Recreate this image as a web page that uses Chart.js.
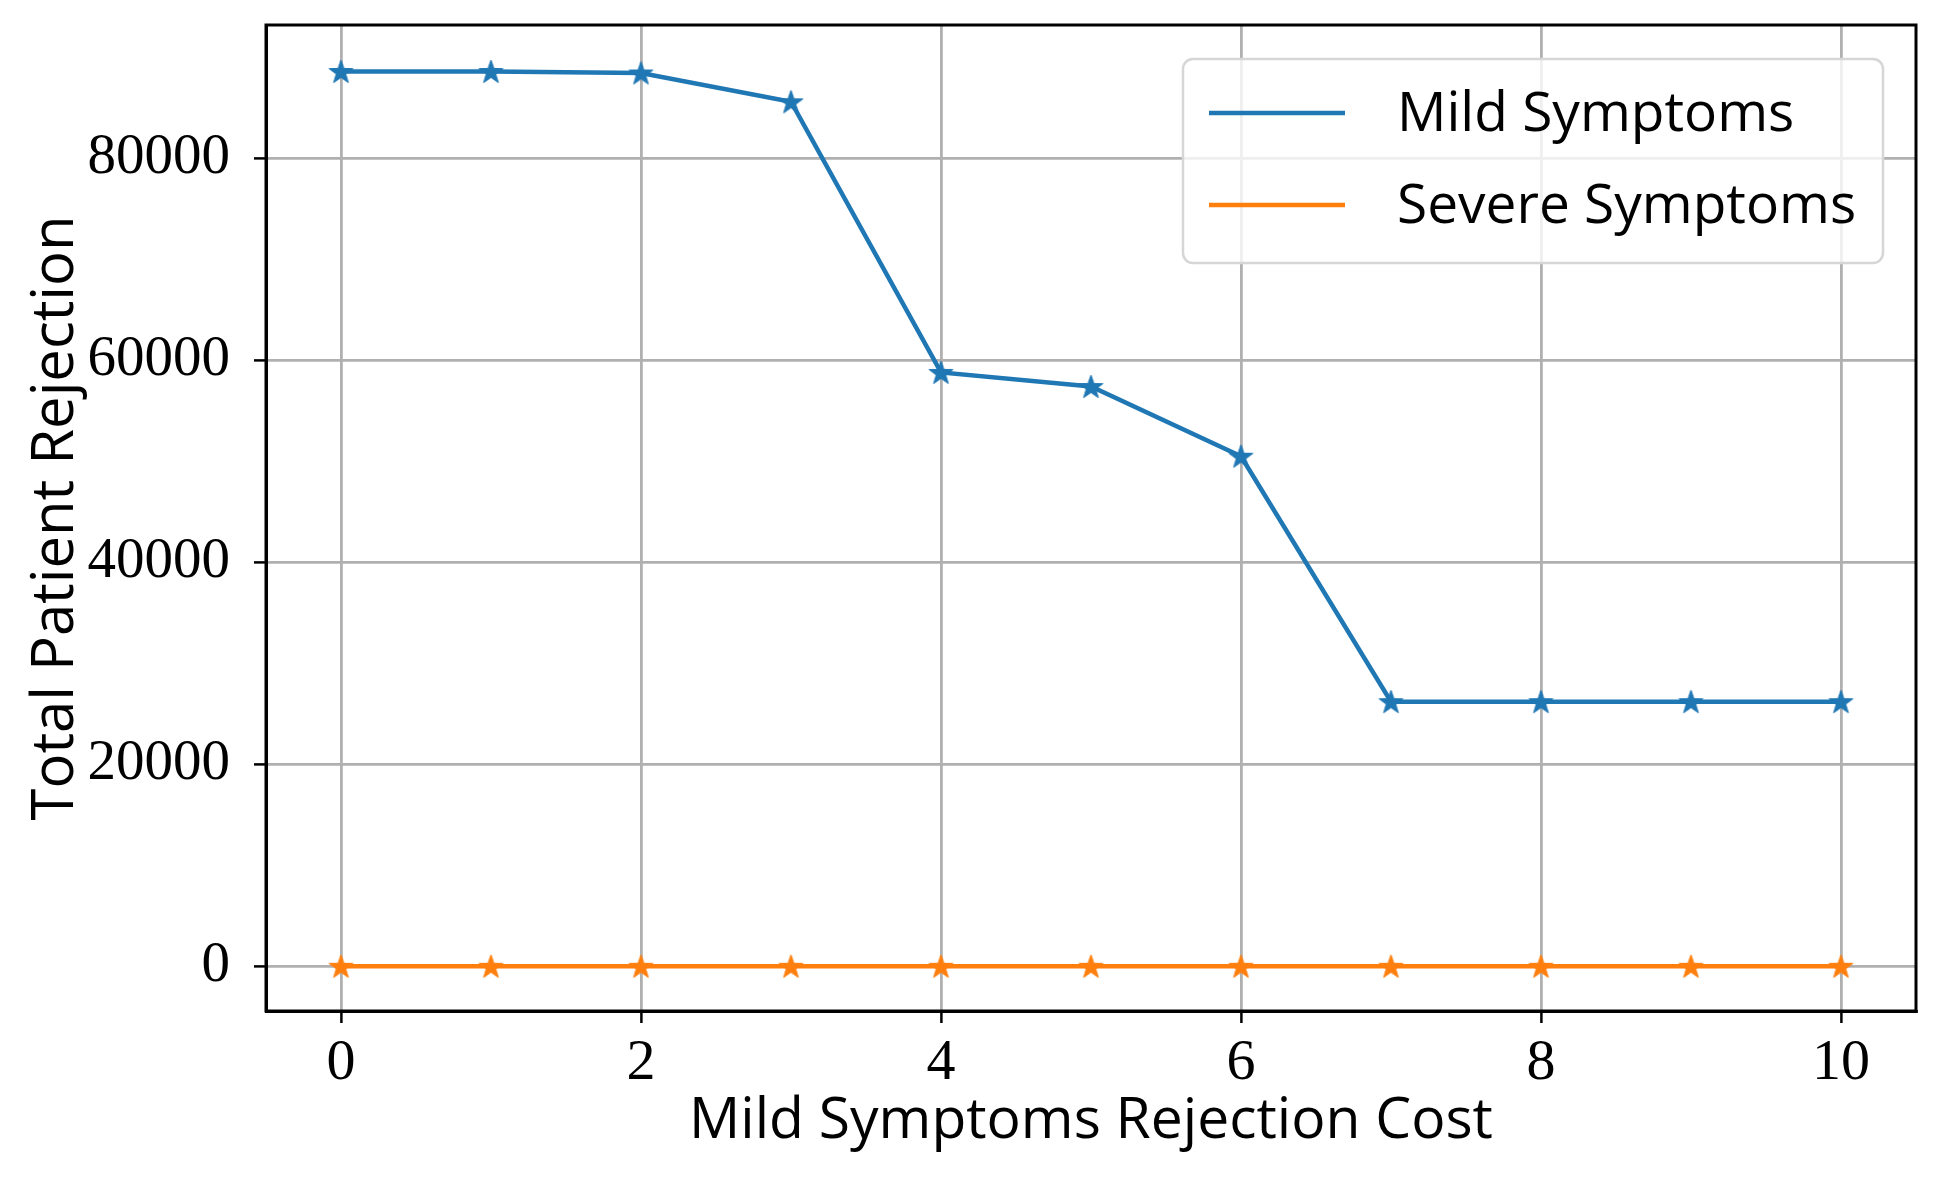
<!DOCTYPE html>
<html><head><meta charset="utf-8">
<script src="https://cdn.jsdelivr.net/npm/chart.js@4.4.1/dist/chart.umd.min.js"></script>
<style>html,body{margin:0;padding:0;background:#fff;} canvas{display:block;}</style>
</head><body>
<canvas id="c" width="1938" height="1192"></canvas>
<script>
const xValues = [0,1,2,3,4,5,6,7,8,9,10];
const mildSymptoms = [88600,88600,88450,85600,58800,57400,50500,26200,26200,26200,26200];
const severeSymptoms = [0,0,0,0,0,0,0,0,0,0,0];
const xTicks = [0,2,4,6,8,10];
const yTicks = [0,20000,40000,60000,80000];
const seriesLabels = ['Mild Symptoms','Severe Symptoms'];
const xTitle = 'Mild Symptoms Rejection Cost';
const yTitle = 'Total Patient Rejection';

const BLUE = '#1f77b4', ORANGE = '#ff7f0e';
const SANS = '"Open Sans", "DejaVu Sans", sans-serif';
const SERIF = '"Liberation Serif", "DejaVu Serif", serif';

function makeStar(color, size) {
  const c = document.createElement('canvas');
  c.width = size; c.height = size;
  const g = c.getContext('2d');
  const cx = size/2, cy = size/2 + 1, R = size/2 - 1, r = R*0.4;
  g.beginPath();
  for (let i = 0; i < 10; i++) {
    const a = -Math.PI/2 + i*Math.PI/5;
    const rad = i%2===0 ? R : r;
    g.lineTo(cx + rad*Math.cos(a), cy + rad*Math.sin(a));
  }
  g.closePath();
  g.fillStyle = color; g.fill();
  g.lineWidth = 1; g.strokeStyle = color; g.stroke();
  return c;
}

const framePlugin = {
  id: 'frame',
  afterDraw(chart) {
    const {ctx, chartArea: a} = chart;
    ctx.save();
    ctx.strokeStyle = '#000'; ctx.lineWidth = 3;
    ctx.strokeRect(a.left, a.top, a.right - a.left, a.bottom - a.top);
    ctx.restore();
  }
};

const legendPlugin = {
  id: 'boxLegend',
  afterDraw(chart) {
    const ctx = chart.ctx;
    const x0 = 1183, y0 = 59, w = 700, h = 204, rad = 10;
    ctx.save();
    ctx.beginPath();
    ctx.roundRect(x0, y0, w, h, rad);
    ctx.fillStyle = 'rgba(255,255,255,0.8)';
    ctx.fill();
    ctx.lineWidth = 2.5; ctx.strokeStyle = '#d6d6d6';
    ctx.stroke();
    const rows = [113, 205];
    chart.data.datasets.forEach((ds, i) => {
      ctx.beginPath();
      ctx.moveTo(1209, rows[i]); ctx.lineTo(1345, rows[i]);
      ctx.strokeStyle = ds.borderColor; ctx.lineWidth = 4.5;
      ctx.stroke();
      ctx.fillStyle = '#000';
      ctx.font = '55px ' + SANS;
      ctx.textBaseline = 'middle';
      ctx.textAlign = 'left';
      ctx.fillText(ds.label, 1397, rows[i] + 2);
    });
    ctx.restore();
  }
};

const starBlue = makeStar(BLUE, 27);
const starOrange = makeStar(ORANGE, 27);

function noPad(s) { s.paddingTop = 0; s.paddingBottom = 0; s.paddingLeft = 0; s.paddingRight = 0; }

new Chart(document.getElementById('c'), {
  type: 'line',
  data: {
    datasets: [
      { label: seriesLabels[0], data: xValues.map((x,i)=>({x, y: mildSymptoms[i]})),
        borderColor: BLUE, backgroundColor: BLUE, borderWidth: 4.5, pointStyle: starBlue, tension: 0, order: 2 },
      { label: seriesLabels[1], data: xValues.map((x,i)=>({x, y: severeSymptoms[i]})),
        borderColor: ORANGE, backgroundColor: ORANGE, borderWidth: 4.5, pointStyle: starOrange, tension: 0, order: 1 }
    ]
  },
  options: {
    responsive: false, devicePixelRatio: 1, animation: false,
    layout: { padding: { top: 25, right: 22, left: 0, bottom: 0 } },
    plugins: { legend: { display: false }, tooltip: { enabled: false } },
    scales: {
      x: {
        type: 'linear', min: -0.5, max: 10.5,
        afterBuildTicks: s => { s.ticks = xTicks.map(v => ({ value: v })); },
        afterFit: s => { s.height = 181; noPad(s); },
        ticks: { font: { family: SERIF, size: 58 }, color: '#000', padding: 6, maxRotation: 0, autoSkip: false, callback: v => String(v) },
        grid: { color: '#b0b0b0', lineWidth: 2.8, tickLength: 12, tickColor: '#000', tickWidth: 2.5 },
        border: { color: '#000', width: 3 },
        title: { display: true, text: xTitle, color: '#000', font: { family: SANS, size: 57 }, padding: { top: 0, bottom: 36 } }
      },
      y: {
        type: 'linear', min: -4430, max: 93200,
        afterBuildTicks: s => { s.ticks = yTicks.map(v => ({ value: v })); },
        afterFit: s => { s.width = 266; noPad(s); },
        ticks: { font: { family: SERIF, size: 57 }, color: '#000', padding: 24, autoSkip: false, callback: v => String(v) },
        grid: { color: '#b0b0b0', lineWidth: 2.8, tickLength: 12, tickColor: '#000', tickWidth: 2.5 },
        border: { color: '#000', width: 3 },
        title: { display: true, text: yTitle, color: '#000', font: { family: SANS, size: 58 }, padding: { top: 22, bottom: 0 } }
      }
    }
  },
  plugins: [framePlugin, legendPlugin]
});
</script>
</body></html>
